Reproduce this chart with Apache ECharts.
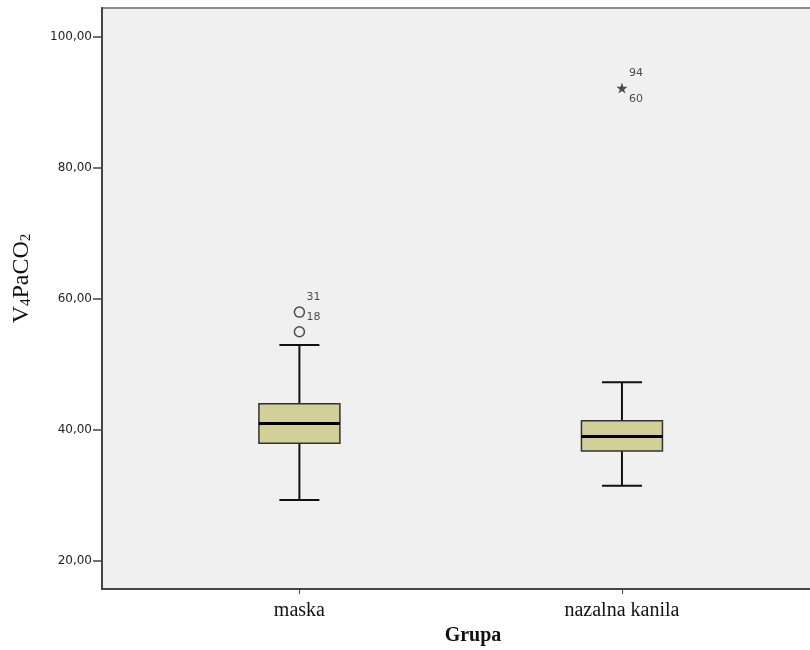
<!DOCTYPE html>
<html>
<head>
<meta charset="utf-8">
<script src="https://cdn.jsdelivr.net/npm/echarts@6/dist/echarts.min.js"></script>
<style>
html,body{margin:0;padding:0;background:#fff;}
#chart{width:810px;height:650px;}
</style>
</head>
<body>
<div id="chart"></div>
<script>
// ---- data ----
const categories = ['maska', 'nazalna kanila'];
const whiskerLow = [29.3, 31.5];
const q1 = [38.0, 36.8];
const median = [41.0, 39.0];
const q3 = [44.0, 41.4];
const whiskerHigh = [53.0, 47.3];

// outliers (circles)
const outlierGroup = [0, 0];
const outlierValues = [58.0, 55.0];
const outlierIds = ['31\n18', ''];

// extremes (stars)
const extremeGroup = [1];
const extremeValues = [92.2];
const extremeIds = ['94\n60'];

const yTicks = [20, 40, 60, 80, 100];

// ---- build ----
const boxData = categories.map((c, i) => [i, whiskerLow[i], q1[i], median[i], q3[i], whiskerHigh[i]]);
const outlierData = outlierValues.map((v, i) => ({ value: [outlierGroup[i], v], id: outlierIds[i] }));
const extremeData = extremeValues.map((v, i) => ({ value: [extremeGroup[i], v], id: extremeIds[i] }));

const serif = '"Liberation Serif", "Times New Roman", serif';
const sans = '"DejaVu Sans", sans-serif';

const chart = echarts.init(document.getElementById('chart'), null, { renderer: 'canvas' });

chart.setOption({
  animation: false,
  backgroundColor: '#ffffff',
  grid: {
    left: 102, top: 8, width: 718, height: 581,
    outerBoundsMode: 'none',
    show: true, backgroundColor: '#f0f0f0',
    borderColor: '#8a8a8a', borderWidth: 2
  },
  xAxis: {
    type: 'value',
    min: -0.612, max: 1.614,
    splitLine: { show: false },
    axisLine: { show: true, onZero: false, lineStyle: { color: '#444', width: 2 } },
    axisTick: { show: true, customValues: [0, 1], length: 5, lineStyle: { color: '#444', width: 1 } },
    axisLabel: {
      customValues: [0, 1],
      formatter: v => categories[Math.round(v)],
      fontFamily: serif, fontSize: 20, color: '#111', margin: 12
    },
    name: 'Grupa',
    nameLocation: 'middle',
    nameGap: 37,
    nameTextStyle: { fontFamily: serif, fontSize: 20, fontWeight: 'bold', color: '#111', padding: [0, 0, 0, 24] }
  },
  yAxis: {
    type: 'value',
    min: 15.73, max: 104.43,
    splitLine: { show: false },
    axisLine: { show: true, onZero: false, lineStyle: { color: '#444', width: 2 } },
    axisTick: { show: true, customValues: yTicks, length: 9, lineStyle: { color: '#444', width: 1.5 } },
    axisLabel: {
      customValues: yTicks,
      formatter: v => v.toFixed(2).replace('.', ','),
      fontFamily: sans, fontSize: 12, color: '#222', margin: 10
    },
    name: '{v|V}{s|4}{v|PaCO}{s|2}',
    nameLocation: 'middle',
    nameGap: 68,
    nameRotate: 90,
    nameTextStyle: {
      padding: [0, 0, 0, 40],
      rich: {
        v: { fontFamily: serif, fontSize: 24, color: '#111' },
        s: { fontFamily: serif, fontSize: 15, color: '#111', verticalAlign: 'bottom', padding: [10, 0, 0, 0] }
      }
    }
  },
  series: [
    {
      type: 'custom',
      data: boxData,
      encode: { x: 0, y: [1, 2, 3, 4, 5] },
      renderItem: function (params, api) {
        const x = api.value(0);
        const lo = api.coord([x, api.value(1)]);
        const b1 = api.coord([x, api.value(2)]);
        const md = api.coord([x, api.value(3)]);
        const b3 = api.coord([x, api.value(4)]);
        const hi = api.coord([x, api.value(5)]);
        const bw = 81, cw = 40;
        const ls = { stroke: '#111', lineWidth: 2 };
        return {
          type: 'group',
          children: [
            { type: 'line', shape: { x1: lo[0], y1: lo[1], x2: b1[0], y2: b1[1] }, style: ls },
            { type: 'line', shape: { x1: hi[0], y1: hi[1], x2: b3[0], y2: b3[1] }, style: ls },
            { type: 'line', shape: { x1: lo[0] - cw / 2, y1: lo[1], x2: lo[0] + cw / 2, y2: lo[1] }, style: ls },
            { type: 'line', shape: { x1: hi[0] - cw / 2, y1: hi[1], x2: hi[0] + cw / 2, y2: hi[1] }, style: ls },
            { type: 'rect', shape: { x: b3[0] - bw / 2, y: b3[1], width: bw, height: b1[1] - b3[1] },
              style: { fill: '#d3cf98', stroke: '#333', lineWidth: 1.5 } },
            { type: 'line', shape: { x1: md[0] - bw / 2, y1: md[1], x2: md[0] + bw / 2, y2: md[1] },
              style: { stroke: '#000', lineWidth: 3 } }
          ]
        };
      },
      z: 2
    },
    {
      type: 'scatter',
      data: outlierData,
      symbol: 'circle',
      symbolSize: 10,
      itemStyle: { color: '#f0f0f0', borderColor: '#222', borderWidth: 1.5 },
      label: {
        show: true, position: 'inside', offset: [14, -5],
        formatter: p => p.data.id,
        fontFamily: sans, fontSize: 11, color: '#222', lineHeight: 20, align: 'center'
      },
      z: 3
    },
    {
      type: 'scatter',
      data: extremeData,
      symbol: 'path://M50,0 L61.8,35.1 L97.6,34.5 L69,56.4 L79.4,90.5 L50,70 L20.6,90.5 L31,56.4 L2.4,34.5 L38.2,35.1 Z',
      symbolSize: 11,
      itemStyle: { color: '#222' },
      label: {
        show: true, position: 'inside', offset: [14, -2],
        formatter: p => p.data.id,
        fontFamily: sans, fontSize: 11, color: '#222', lineHeight: 26, align: 'center'
      },
      z: 3
    }
  ]
});
</script>
</body>
</html>
